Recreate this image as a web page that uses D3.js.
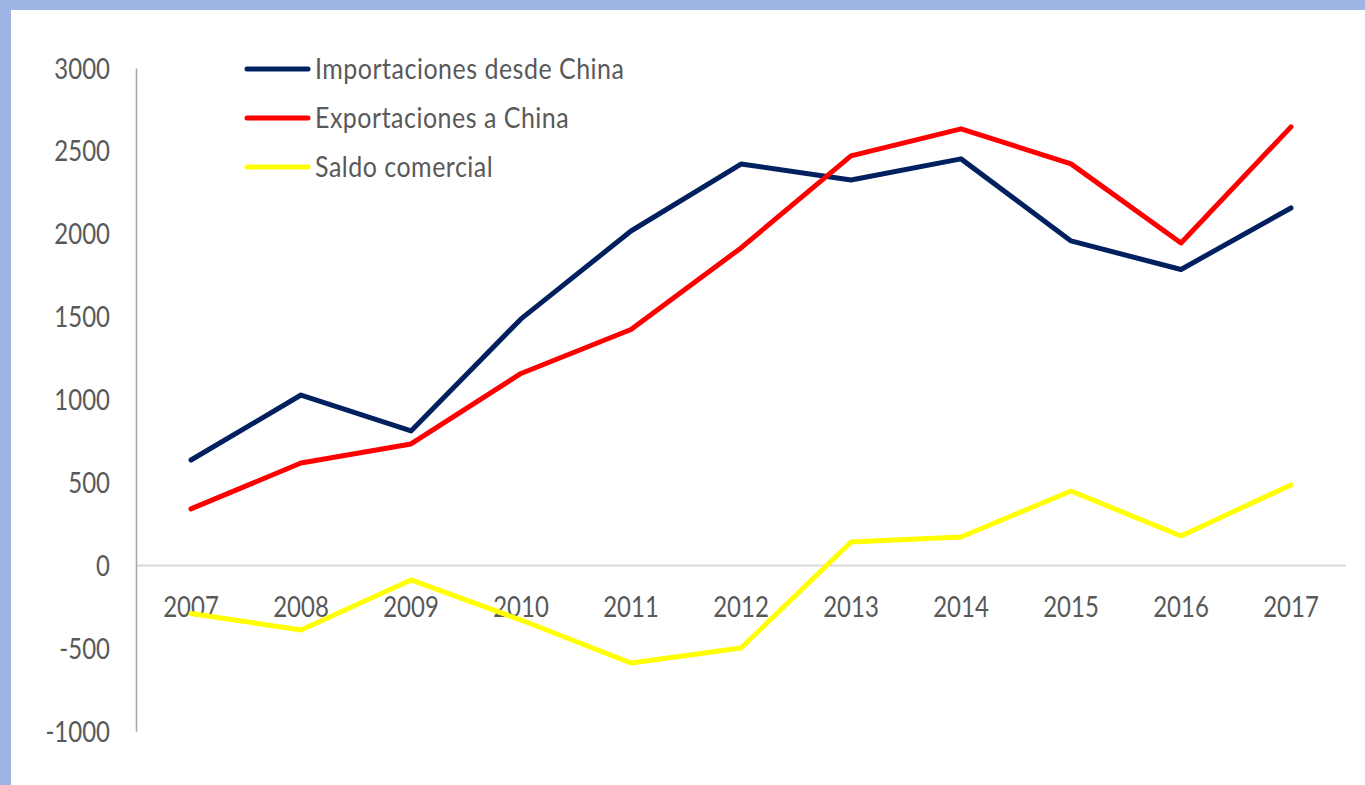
<!DOCTYPE html>
<html>
<head>
<meta charset="utf-8">
<script src="https://cdn.jsdelivr.net/npm/d3@7"></script>
<style>
  body { margin: 0; background: #fff; }
  svg { display: block; }
  text { font-family: Lato, "Open Sans", sans-serif; fill: #595959; }
</style>
</head>
<body>
<div class="display"></div>
<script>
var years = ["2007", "2008", "2009", "2010", "2011", "2012", "2013", "2014", "2015", "2016", "2017"];
var importaciones = [636, 1028, 811, 1487, 2017, 2421, 2325, 2452, 1957, 1785, 2156];
var exportaciones = [341, 618, 733, 1158, 1423, 1915, 2470, 2633, 2422, 1945, 2645];
var saldo = [-290, -389, -87, -329, -588, -498, 142, 172, 449, 178, 486];
var yTicks = [3000, 2500, 2000, 1500, 1000, 500, 0, -500, -1000];
var seriesNames = ["Importaciones desde China", "Exportaciones a China", "Saldo comercial"];
var seriesColors = ["#002060", "#ff0000", "#ffff00"];

var width = 1365, height = 785;
var stretch = 1.17; // the picture's text looks taller than normal

var svg = d3.select(".display")
  .append("svg")
  .attr("width", width)
  .attr("height", height);

// light blue frame on top and left
svg.append("rect").attr("x", 0).attr("y", 0).attr("width", width).attr("height", 10).attr("fill", "#9db3e1");
svg.append("rect").attr("x", 0).attr("y", 0).attr("width", 11).attr("height", height).attr("fill", "#9db3e1");

var x = d3.scaleBand().domain(years).range([136, 1346]);
var y = d3.scaleLinear().domain([-1000, 3000]).range([731.3, 68]);

// zero line
svg.append("line")
  .attr("x1", x.range()[0]).attr("x2", x.range()[1])
  .attr("y1", y(0)).attr("y2", y(0))
  .attr("stroke", "#d9d9d9").attr("stroke-width", 2);

// vertical axis, plain hyphen for negatives
var yAxis = d3.axisLeft(y).tickValues(yTicks).tickSize(0).tickFormat(function(d) { return String(d); });
var gy = svg.append("g").attr("transform", "translate(136,0)").call(yAxis);
gy.select(".domain").attr("stroke", "#a6a6a6").attr("stroke-width", 1.5);
gy.selectAll(".tick text")
  .attr("x", 0).attr("y", 0).attr("dy", null)
  .attr("transform", "translate(-26,10) scale(1," + stretch + ")")
  .attr("font-size", 24)
  .attr("fill", "#595959")
  .attr("font-family", "Lato, 'Open Sans', sans-serif")
  .attr("text-anchor", "end");

// category labels
svg.selectAll(".xlabel")
  .data(years)
  .enter().append("text")
  .attr("class", "xlabel")
  .attr("text-anchor", "middle")
  .attr("font-size", 24)
  .attr("transform", function(d) { return "translate(" + (x(d) + x.bandwidth() / 2) + ",617) scale(1," + stretch + ")"; })
  .text(function(d) { return d; });

var line = d3.line()
  .x(function(d, i) { return x(years[i]) + x.bandwidth() / 2; })
  .y(function(d) { return y(d); });

[importaciones, exportaciones, saldo].forEach(function(values, k) {
  svg.append("path")
    .datum(values)
    .attr("fill", "none")
    .attr("stroke", seriesColors[k])
    .attr("stroke-width", 5)
    .attr("stroke-linejoin", "round")
    .attr("stroke-linecap", "round")
    .attr("d", line);
});

// legend
var legend = svg.selectAll(".legend")
  .data(seriesNames)
  .enter().append("g")
  .attr("class", "legend")
  .attr("transform", function(d, i) { return "translate(247," + (69 + i * 49) + ")"; });

legend.append("line")
  .attr("x1", 0).attr("x2", 61)
  .attr("y1", 0).attr("y2", 0)
  .attr("stroke", function(d, i) { return seriesColors[i]; })
  .attr("stroke-width", 5)
  .attr("stroke-linecap", "round");

legend.append("text")
  .attr("transform", "translate(68,10) scale(1," + stretch + ")")
  .attr("font-size", 25)
  .attr("letter-spacing", 0.5)
  .text(function(d) { return d; });
</script>
</body>
</html>
